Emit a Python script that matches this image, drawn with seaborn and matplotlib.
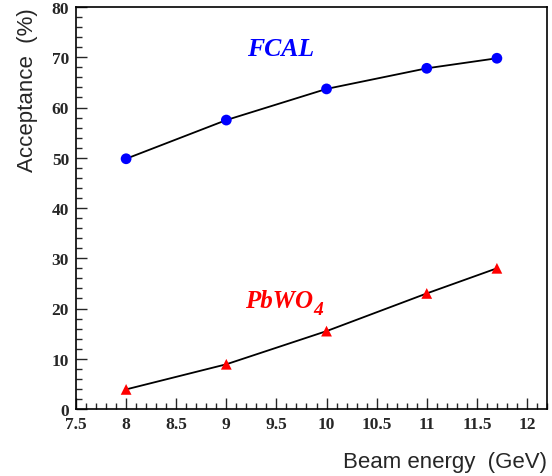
import numpy as np
import pandas as pd
import matplotlib
matplotlib.use("Agg")
import matplotlib.pyplot as plt
import seaborn as sns
from matplotlib.ticker import MultipleLocator
from matplotlib.transforms import offset_copy

# data
beam_energy = [8.0, 9.0, 10.0, 11.0, 11.7]
fcal_acc = [49.8, 57.5, 63.7, 67.8, 69.8]
pbwo4_acc = [3.9, 8.9, 15.5, 23.0, 28.0]

df_fcal = pd.DataFrame({"E": beam_energy, "acc": fcal_acc})
df_pbwo = pd.DataFrame({"E": beam_energy, "acc": pbwo4_acc})

sns.set_style("ticks")
plt.rcParams["font.family"] = ["Liberation Serif", "DejaVu Serif"]

fig = plt.figure(figsize=(5.52, 4.77), dpi=100)
ax = fig.add_axes([76 / 552, 1 - 410 / 477, 471 / 552, 402 / 477])

# lines then markers
sns.lineplot(data=df_fcal, x="E", y="acc", color="black", lw=1.3, ax=ax)
sns.lineplot(data=df_pbwo, x="E", y="acc", color="black", lw=1.3, ax=ax)
sns.scatterplot(data=df_fcal, x="E", y="acc", color="#0000ff", marker="o",
                s=60, edgecolor="none", zorder=3, ax=ax)
sns.scatterplot(data=df_pbwo, x="E", y="acc", color="#ff0000", marker="^",
                s=60, edgecolor="none", zorder=3, ax=ax)

ax.set_xlim(7.5, 12.2)
ax.set_ylim(0, 80)
ax.xaxis.set_major_locator(MultipleLocator(0.5))
ax.xaxis.set_minor_locator(MultipleLocator(0.1))
ax.yaxis.set_major_locator(MultipleLocator(10))
ax.yaxis.set_minor_locator(MultipleLocator(2))
ax.xaxis.set_major_formatter(plt.FuncFormatter(lambda v, p: f"{v:g}"))
ax.tick_params(which="major", direction="in", length=8, width=1, labelsize=12.5)
ax.tick_params(which="minor", direction="in", length=4, width=1)
ax.tick_params(axis="x", which="major", pad=5)
ax.tick_params(axis="y", which="major", pad=5)
for lab in ax.get_xticklabels() + ax.get_yticklabels():
    lab.set_fontweight("bold")
for sp in ax.spines.values():
    sp.set_visible(True)
    sp.set_linewidth(1.2)
    sp.set_color("black")

ax.set_xlabel("Beam energy  (GeV)", family="Liberation Sans", fontsize=16,
              ha="right", x=1.0, labelpad=14)
ax.set_ylabel("Acceptance  (%)", family="Liberation Sans", fontsize=16,
              ha="right", y=1.0, labelpad=10)

ax.text(9.54, 71.8, "FCAL", color="#0000ff", fontsize=18.5, fontweight="bold",
        style="italic", ha="center", va="center")
pb = ax.text(9.19, 21.5, "PbWO", color="#ff0000", fontsize=18, fontweight="bold",
             style="italic", ha="left", va="center")
# subscript 4, ROOT style: big and well below the baseline
fig.canvas.draw()
bb = pb.get_window_extent()
x_end = ax.transData.inverted().transform((bb.x1, bb.y0))
ax.text(x_end[0], x_end[1], "4", color="#ff0000", fontsize=14, fontweight="bold",
        style="italic", ha="left", va="baseline",
        transform=offset_copy(ax.transData, fig=fig, x=0, y=-2, units="dots"))

fig.savefig("out.png", dpi=100)
